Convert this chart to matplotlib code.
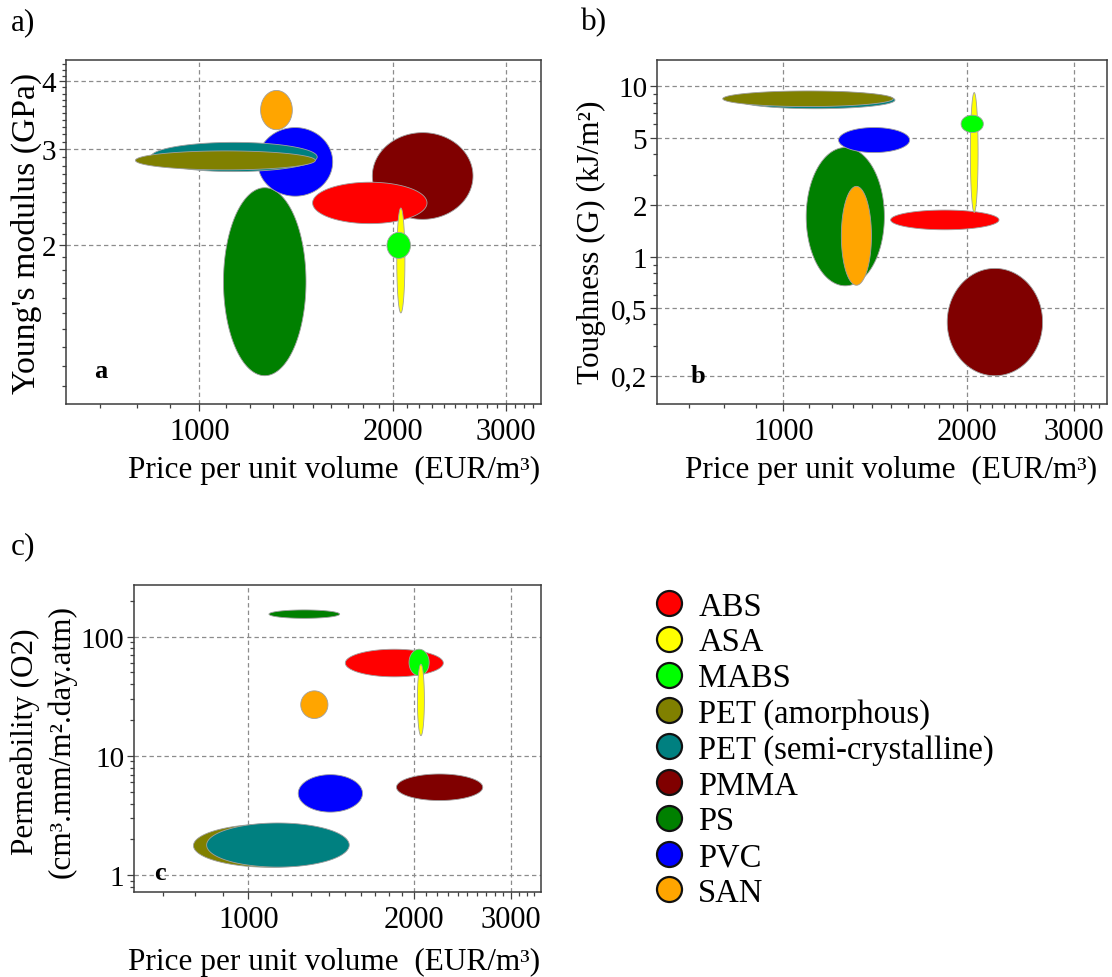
import numpy as np
import matplotlib
matplotlib.use("Agg")
import matplotlib.pyplot as plt
from matplotlib.lines import Line2D
from matplotlib.ticker import FixedLocator, FixedFormatter, NullFormatter

plt.rcParams['font.family'] = ['Liberation Serif', 'DejaVu Serif']

# ---- material property ranges (low / high bounds of each bubble) ----
materials = ["ABS", "ASA", "MABS", "PET (amorphous)", "PET (semi-crystalline)",
             "PMMA", "PS", "PVC", "SAN"]
colors = ["#ff0000", "#ffff00", "#00ff00", "#808000", "#008080",
          "#800000", "#008000", "#0000ff", "#ffa500"]

# price per unit volume, EUR/m3
price_lo = [1500, 2028, 1958, 795, 840, 1858, 1090, 1232, 1245]
price_hi = [2260, 2088, 2130, 1515, 1525, 2665, 1465, 1612, 1395]

# Young's modulus, GPa
modulus_lo = [2.19, 1.50, 1.89, 2.75, 2.73, 2.23, 1.15, 2.46, 3.26]
modulus_hi = [2.61, 2.34, 2.11, 2.98, 3.09, 3.22, 2.55, 3.29, 3.85]

# toughness G, kJ/m2
toughness_lo = [1.44, 1.82, 5.36, 7.62, 7.40, 0.20, 0.675, 4.09, 0.68]
toughness_hi = [1.88, 9.21, 6.78, 9.41, 9.35, 0.854, 4.38, 5.74, 2.59]

# O2 permeability, cm3.mm/m2.day.atm
perm_lo = [46.0, 14.8, 47.0, 1.17, 1.175, 4.24, 142.0, 3.39, 20.6]
perm_hi = [78.3, 58.7, 78.3, 2.70, 2.75, 7.07, 167.0, 6.98, 35.1]

# axis ticks
price_ticks = [1000, 2000, 3000]
price_tick_labels = ["1000", "2000", "3000"]
price_minor = [700, 800, 900, 1100, 1200, 1300, 1400, 1500, 1600, 1700, 1800,
               1900, 2100, 2200, 2300, 2400, 2500, 2600, 2700, 2800, 2900,
               3100, 3200, 3300]

modulus_ticks = [2, 3, 4]
modulus_tick_labels = ["2", "3", "4"]
modulus_minor = [1.1, 1.2, 1.3, 1.4, 1.5, 1.6, 1.7, 1.8, 1.9,
                 2.1, 2.2, 2.3, 2.4, 2.5, 2.6, 2.7, 2.8, 2.9,
                 3.1, 3.2, 3.3, 3.4, 3.5, 3.6, 3.7, 3.8, 3.9,
                 4.1, 4.2, 4.3]

toughness_ticks = [0.2, 0.5, 1, 2, 5, 10]
toughness_tick_labels = ["0,2", "0,5", "1", "2", "5", "10"]
toughness_minor = [0.3, 0.4, 0.6, 0.7, 0.8, 0.9, 3, 4, 6, 7, 8, 9]

perm_ticks = [1, 10, 100]
perm_tick_labels = ["1", "10", "100"]
perm_minor = [0.8, 0.9, 2, 3, 4, 5, 6, 7, 8, 9, 20, 30, 40, 50, 60, 70, 80, 90, 200]

XLIM = (620, 3400)
XTICK_FS = 22
YTICK_FS = 21
LABEL_FS = 22.5


def draw_bubbles(ax, y_lo, y_hi):
    """Ellipses spanning the price and property ranges on log-log axes;
    larger bubbles are drawn first so small ones stay visible."""
    t = np.linspace(0, 2 * np.pi, 240)
    lx0, lx1 = np.log10(price_lo), np.log10(price_hi)
    ly0, ly1 = np.log10(y_lo), np.log10(y_hi)
    cx, rx = (lx0 + lx1) / 2, (lx1 - lx0) / 2
    cy, ry = (ly0 + ly1) / 2, (ly1 - ly0) / 2
    order = np.argsort(-(rx * ry))
    for z, i in enumerate(order):
        ax.fill(10 ** (cx[i] + rx[i] * np.cos(t)),
                10 ** (cy[i] + ry[i] * np.sin(t)),
                facecolor=colors[i], edgecolor="#a0a0a0", lw=0.6,
                zorder=2 + 0.01 * z)


def style_axes(ax, ylim, yticks, ylabels, yminor):
    ax.set_xscale("log")
    ax.set_yscale("log")
    ax.set_xlim(*XLIM)
    ax.set_ylim(*ylim)
    ax.xaxis.set_major_locator(FixedLocator(price_ticks))
    ax.xaxis.set_major_formatter(FixedFormatter(price_tick_labels))
    ax.xaxis.set_minor_locator(FixedLocator(price_minor))
    ax.xaxis.set_minor_formatter(NullFormatter())
    ax.yaxis.set_major_locator(FixedLocator(yticks))
    ax.yaxis.set_major_formatter(FixedFormatter(ylabels))
    ax.yaxis.set_minor_locator(FixedLocator(yminor))
    ax.yaxis.set_minor_formatter(NullFormatter())
    ax.set_axisbelow(True)
    ax.grid(True, which="major", ls=(0, (3.5, 2.5)), color="#8c8c8c", lw=0.9)
    ax.tick_params(which="both", top=False, right=False, direction="out",
                   color="#404040", width=0.9)
    ax.tick_params(axis="x", which="both", labelsize=XTICK_FS, pad=4.5)
    ax.tick_params(axis="y", which="both", labelsize=YTICK_FS, pad=2)
    ax.tick_params(which="major", length=5)
    ax.tick_params(which="minor", length=3)
    for s in ax.spines.values():
        s.set_color("#3c3c3c")
        s.set_linewidth(1.1)


fig = plt.figure(figsize=(11.12, 9.78), dpi=100)
W, H = 1112.0, 978.0


def px_axes(left, top, right, bottom):
    return fig.add_axes([left / W, 1 - bottom / H, (right - left) / W, (bottom - top) / H])


ax_a = px_axes(66, 61, 541, 405)
ax_b = px_axes(657, 61, 1107, 405)
ax_c = px_axes(134, 586, 541, 893)

# panel a: Young's modulus
draw_bubbles(ax_a, modulus_lo, modulus_hi)
style_axes(ax_a, (1.02, 4.38), modulus_ticks, modulus_tick_labels, modulus_minor)
ax_a.set_ylabel("Young's modulus (GPa)", fontsize=24.3, va="center")
ax_a.yaxis.set_label_coords(-0.084, 0.5)
ax_a.set_xlabel("Price per unit volume  (EUR/m³)", fontsize=LABEL_FS, va="center")
ax_a.xaxis.set_label_coords(0.564, -0.189)
ax_a.text(0.074, 0.096, "a", transform=ax_a.transAxes, fontsize=19,
          fontweight="bold", ha="center", va="center")

# panel b: toughness
draw_bubbles(ax_b, toughness_lo, toughness_hi)
style_axes(ax_b, (0.1365, 14.3), toughness_ticks, toughness_tick_labels, toughness_minor)
ax_b.set_ylabel("Toughness (G) (kJ/m²)", fontsize=LABEL_FS, va="center")
ax_b.yaxis.set_label_coords(-0.145, 0.472)
ax_b.set_xlabel("Price per unit volume  (EUR/m³)", fontsize=LABEL_FS, va="center")
ax_b.xaxis.set_label_coords(0.521, -0.189)
ax_b.text(0.0906, 0.084, "b", transform=ax_b.transAxes, fontsize=19,
          fontweight="bold", ha="center", va="center")

# panel c: oxygen permeability
draw_bubbles(ax_c, perm_lo, perm_hi)
style_axes(ax_c, (0.727, 270), perm_ticks, perm_tick_labels, perm_minor)
ax_c.set_ylabel("Permeability (O2)\n(cm³.mm/m².day.atm)", fontsize=LABEL_FS,
                va="center", linespacing=1.3)
ax_c.yaxis.set_label_coords(-0.222, 0.492)
ax_c.set_xlabel("Price per unit volume  (EUR/m³)", fontsize=LABEL_FS, va="center")
ax_c.xaxis.set_label_coords(0.491, -0.225)
ax_c.text(0.063, 0.064, "c", transform=ax_c.transAxes, fontsize=19,
          fontweight="bold", ha="center", va="center")

# panel tags
fig.text(11 / W, 1 - 22.5 / H, "a)", fontsize=LABEL_FS, ha="left", va="center")
fig.text(581 / W, 1 - 22.5 / H, "b)", fontsize=LABEL_FS, ha="left", va="center")
fig.text(11 / W, 1 - 546.5 / H, "c)", fontsize=LABEL_FS, ha="left", va="center")

# shared legend
handles = [Line2D([], [], marker="o", ls="none", markersize=18,
                  markerfacecolor=c, markeredgecolor="#111111", markeredgewidth=1.6)
           for c in colors]
LEG_FS = 23.5
leg_px = LEG_FS / 72 * 100
fig.legend(handles, materials, loc="upper left",
           bbox_to_anchor=((669 - leg_px * 0.45) / W, 1 - 592 / H),
           frameon=False, fontsize=LEG_FS, handlelength=0.9, handletextpad=0.45,
           labelspacing=0.16, borderpad=0, borderaxespad=0)

fig.savefig("out.png", dpi=100)
